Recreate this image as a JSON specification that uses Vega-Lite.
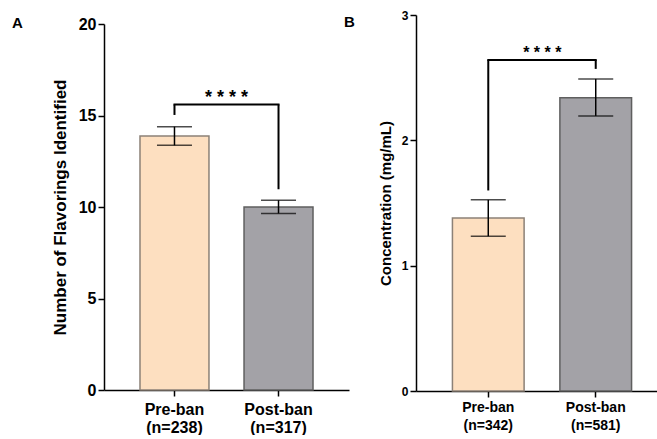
{
  "$schema": "https://vega.github.io/schema/vega-lite/v6.json",
  "padding": {"left": 12, "top": 9, "right": 0, "bottom": 0},
  "autosize": {"type": "pad"},
  "spacing": -5,
  "config": {
    "font": "Liberation Sans",
    "view": {"stroke": null},
    "axis": {"domainColor": "#000", "domainWidth": 1.5, "tickColor": "#000", "tickWidth": 1.5, "tickSize": 6, "labelColor": "#000", "titleColor": "#000", "grid": false, "labelFont": "Liberation Sans", "titleFont": "Liberation Sans"},
    "title": {"font": "Liberation Sans", "fontWeight": "bold", "color": "#000"}
  },
  "hconcat": [
    {
      "width": 245,
      "height": 375,
      "title": {"text": "A", "anchor": "start", "frame": "group", "dx": -92, "fontSize": 15, "offset": -16},
      "layer": [
        {
          "data": {"values": [
            {"group": "Pre-ban (n=238)", "mean": 13.88, "lo": 13.37, "hi": 14.39},
            {"group": "Post-ban (n=317)", "mean": 10.0, "lo": 9.65, "hi": 10.37}
          ]},
          "layer": [
            {
              "mark": {"type": "bar", "strokeWidth": 1.5},
              "encoding": {
                "x": {"field": "group", "type": "nominal", "scale": {"domain": ["Pre-ban (n=238)", "Post-ban (n=317)"], "paddingInner": 0.337, "paddingOuter": 0.346}, "axis": {"labelExpr": "split(datum.value, ' ')", "labelFontSize": 16, "labelFontWeight": "bold", "labelAngle": 0, "labelLineHeight": 18, "labelPadding": 5, "title": null}},
                "y": {"field": "mean", "type": "quantitative", "scale": {"domain": [0, 20], "nice": false, "range": [375, 9]}, "axis": {"values": [0, 5, 10, 15, 20], "title": "Number of Flavorings Identified", "titleFontSize": 17, "titleFontWeight": "bold", "labelFontSize": 16, "labelFontWeight": "bold", "labelPadding": 2, "titlePadding": 9}},
                "fill": {"field": "group", "type": "nominal", "scale": {"domain": ["Pre-ban (n=238)", "Post-ban (n=317)"], "range": ["#FDDFC0", "#A3A2A7"]}, "legend": null},
                "stroke": {"field": "group", "type": "nominal", "scale": {"domain": ["Pre-ban (n=238)", "Post-ban (n=317)"], "range": ["#8C8177", "#5F5F5F"]}, "legend": null}
              }
            },
            {
              "mark": {"type": "rule", "color": "#000", "strokeWidth": 1.5},
              "encoding": {
                "x": {"field": "group", "type": "nominal"},
                "y": {"field": "lo", "type": "quantitative", "title": "Number of Flavorings Identified"},
                "y2": {"field": "hi"}
              }
            },
            {
              "mark": {"type": "tick", "color": "#000", "size": 35, "thickness": 1.5},
              "encoding": {
                "x": {"field": "group", "type": "nominal"},
                "y": {"field": "lo", "type": "quantitative", "title": "Number of Flavorings Identified"}
              }
            },
            {
              "mark": {"type": "tick", "color": "#000", "size": 35, "thickness": 1.5},
              "encoding": {
                "x": {"field": "group", "type": "nominal"},
                "y": {"field": "hi", "type": "quantitative", "title": "Number of Flavorings Identified"}
              }
            }
          ]
        },
        {
          "data": {"values": [
            {"group": "Pre-ban (n=238)", "y": 15.03, "y2": 15.6},
            {"group": "Post-ban (n=317)", "y": 10.97, "y2": 15.6}
          ]},
          "mark": {"type": "rule", "color": "#000", "strokeWidth": 2},
          "encoding": {
            "x": {"field": "group", "type": "nominal"},
            "y": {"field": "y", "type": "quantitative", "title": "Number of Flavorings Identified"},
            "y2": {"field": "y2"}
          }
        },
        {
          "data": {"values": [
            {"group": "Pre-ban (n=238)", "group2": "Post-ban (n=317)", "y": 15.6}
          ]},
          "mark": {"type": "rule", "color": "#000", "strokeWidth": 2, "strokeCap": "square"},
          "encoding": {
            "x": {"field": "group", "type": "nominal", "bandPosition": 0.5},
            "x2": {"field": "group2", "bandPosition": 0.5},
            "y": {"field": "y", "type": "quantitative", "title": "Number of Flavorings Identified"}
          }
        },
        {
          "data": {"values": [
            {"group": "Pre-ban (n=238)", "y": 15.68, "label": "* * * *"}
          ]},
          "mark": {"type": "text", "fontSize": 18, "fontWeight": "bold", "baseline": "alphabetic", "align": "center", "color": "#000"},
          "encoding": {
            "x": {"field": "group", "type": "nominal", "bandPosition": 1.254},
            "y": {"field": "y", "type": "quantitative", "title": "Number of Flavorings Identified"},
            "text": {"field": "label"}
          }
        }
      ]
    },
    {
      "width": 252,
      "height": 376,
      "title": {"text": "B", "anchor": "start", "frame": "group", "dx": -72, "fontSize": 15, "offset": -21},
      "layer": [
        {
          "data": {"values": [
            {"group": "Pre-ban (n=342)", "mean": 1.38, "lo": 1.235, "hi": 1.525},
            {"group": "Post-ban (n=581)", "mean": 2.34, "lo": 2.195, "hi": 2.49}
          ]},
          "layer": [
            {
              "mark": {"type": "bar", "strokeWidth": 1.5},
              "encoding": {
                "x": {"field": "group", "type": "nominal", "scale": {"domain": ["Pre-ban (n=342)", "Post-ban (n=581)"], "paddingInner": 0.333, "paddingOuter": 0.339}, "axis": {"labelExpr": "split(datum.value, ' ')", "labelFontSize": 14, "labelFontWeight": "bold", "labelAngle": 0, "labelLineHeight": 18, "labelPadding": 3, "title": null}},
                "y": {"field": "mean", "type": "quantitative", "scale": {"domain": [0, 3], "nice": false}, "axis": {"values": [0, 1, 2, 3], "format": "d", "title": "Concentration (mg/mL)", "titleFontSize": 15, "titleFontWeight": "bold", "labelFontSize": 12, "labelFontWeight": "bold", "labelPadding": 2, "titlePadding": 8}},
                "fill": {"field": "group", "type": "nominal", "scale": {"domain": ["Pre-ban (n=342)", "Post-ban (n=581)"], "range": ["#FDDFC0", "#A3A2A7"]}, "legend": null},
                "stroke": {"field": "group", "type": "nominal", "scale": {"domain": ["Pre-ban (n=342)", "Post-ban (n=581)"], "range": ["#8C8177", "#5F5F5F"]}, "legend": null}
              }
            },
            {
              "mark": {"type": "rule", "color": "#000", "strokeWidth": 1.5},
              "encoding": {
                "x": {"field": "group", "type": "nominal"},
                "y": {"field": "lo", "type": "quantitative", "title": "Concentration (mg/mL)"},
                "y2": {"field": "hi"}
              }
            },
            {
              "mark": {"type": "tick", "color": "#000", "size": 35, "thickness": 1.5},
              "encoding": {
                "x": {"field": "group", "type": "nominal"},
                "y": {"field": "lo", "type": "quantitative", "title": "Concentration (mg/mL)"}
              }
            },
            {
              "mark": {"type": "tick", "color": "#000", "size": 35, "thickness": 1.5},
              "encoding": {
                "x": {"field": "group", "type": "nominal"},
                "y": {"field": "hi", "type": "quantitative", "title": "Concentration (mg/mL)"}
              }
            }
          ]
        },
        {
          "data": {"values": [
            {"group": "Pre-ban (n=342)", "y": 1.6, "y2": 2.64},
            {"group": "Post-ban (n=581)", "y": 2.57, "y2": 2.64}
          ]},
          "mark": {"type": "rule", "color": "#000", "strokeWidth": 2},
          "encoding": {
            "x": {"field": "group", "type": "nominal"},
            "y": {"field": "y", "type": "quantitative", "title": "Concentration (mg/mL)"},
            "y2": {"field": "y2"}
          }
        },
        {
          "data": {"values": [
            {"group": "Pre-ban (n=342)", "group2": "Post-ban (n=581)", "y": 2.64}
          ]},
          "mark": {"type": "rule", "color": "#000", "strokeWidth": 2, "strokeCap": "square"},
          "encoding": {
            "x": {"field": "group", "type": "nominal", "bandPosition": 0.5},
            "x2": {"field": "group2", "bandPosition": 0.5},
            "y": {"field": "y", "type": "quantitative", "title": "Concentration (mg/mL)"}
          }
        },
        {
          "data": {"values": [
            {"group": "Pre-ban (n=342)", "y": 2.655, "label": "* * * *"}
          ]},
          "mark": {"type": "text", "fontSize": 16, "fontWeight": "bold", "baseline": "alphabetic", "align": "center", "color": "#000"},
          "encoding": {
            "x": {"field": "group", "type": "nominal", "bandPosition": 1.254},
            "y": {"field": "y", "type": "quantitative", "title": "Concentration (mg/mL)"},
            "text": {"field": "label"}
          }
        }
      ]
    }
  ]
}
